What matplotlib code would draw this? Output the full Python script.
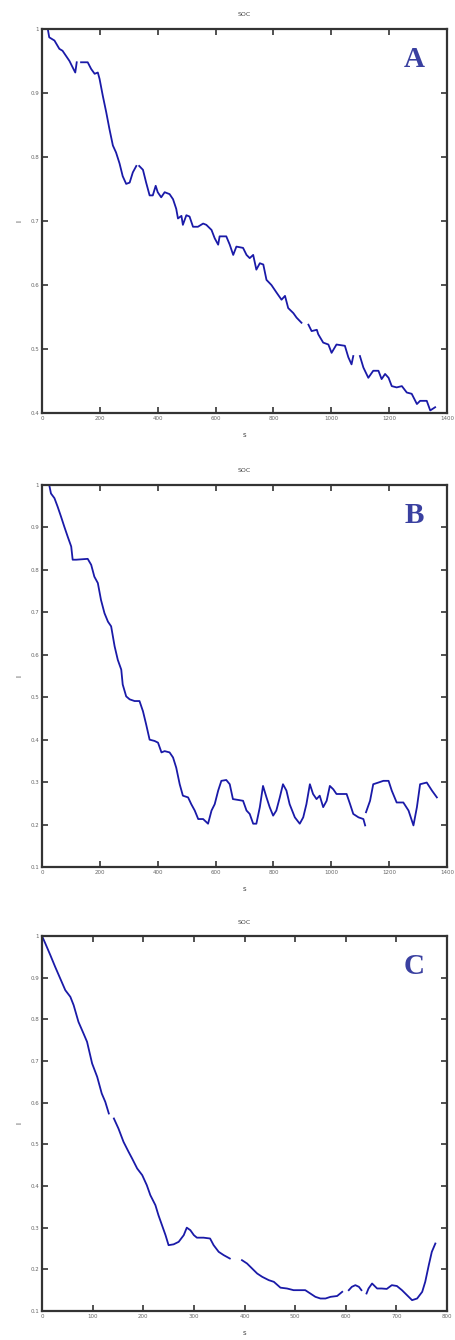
import numpy as np
import matplotlib
matplotlib.use("Agg")
import matplotlib.pyplot as plt

# ---------------------------- data ----------------------------
# panel A (NaN = gap in the trace)
a_x = [0, 20, 25, 43, 60, 71, 83, 95, 106, 115, 120, np.nan,
       135, 158, 170, 182, 193, 199, 210, 222, 233, 245, 256, 268, 279, 291,
       303, 314, 326, np.nan, 336, 349, 360, 372, 383, 393, 400, 412, 424, 441,
       453, 464, 470, 482, 487, 499, 510, 522, 539, 557, 568, 586, 597, 609,
       614, 637, 649, 661, 672, 695, 707, 718, 730, 741, 753, 765, 776, 793,
       811, 828, 840, 851, 869, 880, 897, np.nan, 921, 932, 950, 955, 972, 990,
       1001, 1018, 1047, 1059, 1070, 1076, np.nan, 1099, 1111, 1128, 1145,
       1163, 1174, 1186, 1198, 1209, 1226, 1244, 1261, 1278, 1296, 1307, 1330,
       1342, 1359]
a_y = [1.0, 1.0, 0.987, 0.982, 0.969, 0.966, 0.958, 0.95, 0.94, 0.932, 0.948, np.nan,
       0.948, 0.948, 0.9375, 0.93, 0.932, 0.922, 0.896, 0.87, 0.844, 0.818, 0.807,
       0.79, 0.77, 0.758, 0.76, 0.776, 0.786, np.nan, 0.786, 0.78, 0.76, 0.74, 0.74,
       0.755, 0.745, 0.737, 0.745, 0.742, 0.734, 0.719, 0.704, 0.708, 0.694, 0.709,
       0.707, 0.691, 0.691, 0.696, 0.694, 0.686, 0.673, 0.663, 0.676, 0.676, 0.663,
       0.647, 0.660, 0.658, 0.647, 0.642, 0.647, 0.624, 0.634, 0.632, 0.608, 0.60,
       0.588, 0.577, 0.583, 0.564, 0.556, 0.549, 0.541, np.nan, 0.538, 0.528, 0.530,
       0.523, 0.510, 0.507, 0.494, 0.507, 0.505, 0.487, 0.476, 0.489, np.nan, 0.489,
       0.471, 0.455, 0.466, 0.466, 0.453, 0.461, 0.455, 0.442, 0.44, 0.442, 0.432,
       0.430, 0.414, 0.419, 0.419, 0.404, 0.409]

# panel B
b_x = [0, 25, 31, 43, 54, 66, 77, 89, 101, 106, 118, 158, 170, 181, 193, 204,
       216, 228, 239, 251, 262, 274, 279, 291, 303, 320, 337, 349, 360, 372,
       389, 401, 413, 424, 441, 453, 464, 476, 487, 505, 516, 528, 540, 557,
       574, 586, 597, 609, 620, 637, 649, 660, 678, 695, 707, 718, 730, 741,
       753, 764, 776, 787, 799, 810, 822, 833, 845, 856, 874, 891, 903, 914,
       926, 937, 949, 960, 972, 984, 995, 1007, 1018, 1036, 1053, 1065, 1076,
       1094, 1111, 1117, np.nan, 1120, 1134, 1145, 1163, 1180, 1198, 1209,
       1226, 1249, 1267, 1284, 1296, 1307, 1330, 1348, 1365]
b_y = [1.0, 1.0, 0.98, 0.969, 0.949, 0.925, 0.902, 0.878, 0.855, 0.824, 0.824,
       0.826, 0.812, 0.784, 0.769, 0.729, 0.698, 0.678, 0.667, 0.62, 0.588,
       0.565, 0.53, 0.502, 0.495, 0.491, 0.491, 0.467, 0.436, 0.40, 0.397,
       0.393, 0.37, 0.373, 0.370, 0.358, 0.334, 0.295, 0.268, 0.264, 0.248,
       0.233, 0.213, 0.213, 0.202, 0.233, 0.248, 0.28, 0.303, 0.305, 0.295,
       0.26, 0.258, 0.256, 0.233, 0.225, 0.202, 0.202, 0.241, 0.291, 0.264,
       0.241, 0.221, 0.233, 0.264, 0.295, 0.28, 0.248, 0.217, 0.202, 0.217,
       0.248, 0.295, 0.272, 0.26, 0.268, 0.241, 0.256, 0.291, 0.283, 0.272,
       0.272, 0.272, 0.248, 0.225, 0.217, 0.213, 0.198, np.nan, 0.229, 0.256,
       0.295, 0.299, 0.303, 0.303, 0.28, 0.252, 0.252, 0.233, 0.198, 0.241,
       0.295, 0.299, 0.28, 0.264]

# panel C
c_x = [0, 6.6, 16.5, 26, 36, 46, 56, 62.5, 72, 82, 89, 99, 109, 118, 125, 132,
       np.nan, 142, 151, 161, 171, 178, 188, 198, 207, 214, 224, 230, 237, 244,
       250, 260, 270, 280, 286, 293, 300, 306, 319, 332, 339, 349, 359, 371,
       np.nan, 395, 405, 415, 425, 435, 448, 458, 471, 484, 497, 510, 520, 530,
       540, 550, 560, 570, 583, 593, np.nan, 606, 612, 619, 626, 631, np.nan,
       641, 645, 652, 662, 671, 681, 691, 701, 711, 721, 731, 741, 751, 757,
       764, 770, 777]
c_y = [1.0, 0.982, 0.954, 0.926, 0.898, 0.87, 0.854, 0.834, 0.794, 0.766, 0.746,
       0.694, 0.662, 0.622, 0.602, 0.574, np.nan, 0.562, 0.538, 0.506, 0.482,
       0.466, 0.442, 0.426, 0.402, 0.378, 0.354, 0.33, 0.306, 0.282, 0.258,
       0.26, 0.266, 0.282, 0.30, 0.294, 0.282, 0.276, 0.276, 0.274, 0.258,
       0.242, 0.234, 0.226, np.nan, 0.222, 0.214, 0.202, 0.19, 0.182, 0.174,
       0.170, 0.156, 0.154, 0.150, 0.150, 0.150, 0.142, 0.134, 0.130, 0.130,
       0.134, 0.136, 0.146, np.nan, 0.150, 0.158, 0.162, 0.158, 0.150, np.nan,
       0.142, 0.154, 0.166, 0.154, 0.154, 0.153, 0.162, 0.160, 0.150, 0.138,
       0.126, 0.130, 0.146, 0.170, 0.210, 0.242, 0.262]

titles = ["SOC", "SOC", "SOC"]
letters = ["A", "B", "C"]
xlims = [(0, 1400), (0, 1400), (0, 800)]
ylims = [(0.4, 1.0), (0.1, 1.0), (0.1, 1.0)]
xticks = [np.arange(0, 1401, 200), np.arange(0, 1401, 200), np.arange(0, 801, 100)]
yticks = [np.round(np.arange(0.4, 1.01, 0.1), 1),
          np.round(np.arange(0.1, 1.01, 0.1), 1),
          np.round(np.arange(0.1, 1.01, 0.1), 1)]

# --------------------------- figure ---------------------------
W, H = 456, 1340
fig = plt.figure(figsize=(W / 100, H / 100), dpi=100)

# axes boxes in pixels: left, top, right, bottom
boxes = [(42, 29, 447, 413), (42, 485, 447, 867), (42, 936, 447, 1311)]
series = [(a_x, a_y), (b_x, b_y), (c_x, c_y)]

line_col = "#1a1aa8"
frame_col = "#333333"

for i, (l, t, r, b) in enumerate(boxes):
    ax = fig.add_axes([l / W, 1 - b / H, (r - l) / W, (b - t) / H])
    xs, ys = series[i]
    ax.plot(xs, ys, color=line_col, lw=1.3)
    ax.set_xlim(*xlims[i])
    ax.set_ylim(*ylims[i])
    ax.set_xticks(xticks[i])
    ax.set_yticks(yticks[i])
    ax.set_xticklabels([str(v) for v in xticks[i]])
    ax.set_yticklabels(["1" if v == 1.0 else f"{v:.1f}" for v in yticks[i]])
    ax.tick_params(direction="in", length=4, width=1.2, top=True, right=True,
                   labelsize=4, labelcolor="#666666", color=frame_col, pad=2)
    for s in ax.spines.values():
        s.set_linewidth(1.6)
        s.set_color(frame_col)
    ax.set_title(titles[i], fontsize=4.5, color="#444444", pad=9)
    ax.set_xlabel("s", fontsize=5, color="#444444", labelpad=8)
    ax.set_ylabel("I", fontsize=5, color="#444444", labelpad=6)
    ax.text(0.92, 0.92, letters[i], transform=ax.transAxes, ha="center", va="center",
            fontsize=21, fontweight="bold", family=["Liberation Serif", "DejaVu Serif"],
            color="#3a40a0")

fig.savefig("out.png", dpi=100)
